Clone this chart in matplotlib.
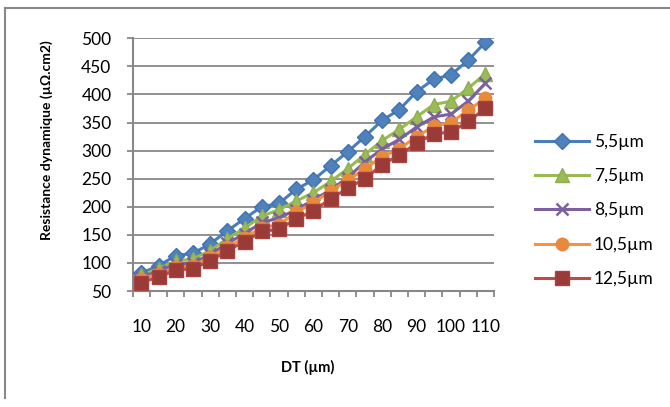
import matplotlib
matplotlib.use("Agg")
import matplotlib.pyplot as plt
from matplotlib.lines import Line2D

plt.rcParams['font.family'] = ['Lato', 'DejaVu Sans']

dt = [10, 15, 20, 25, 30, 35, 40, 45, 50, 55, 60, 65, 70, 75, 80, 85, 90, 95, 100, 105, 110]
tick_labels = ["10", "20", "30", "40", "50", "60", "70", "80", "90", "100", "110"]

s55 = [82, 95, 113, 117, 134, 157, 179, 200, 206, 231, 248, 273, 298, 325, 354, 373, 405, 427, 435, 461, 493]
s75 = [78, 90, 103, 107, 122, 143, 162, 183, 195, 210, 225, 245, 268, 293, 318, 338, 360, 382, 388, 411, 437]
s85 = [75, 85, 98, 100, 115, 135, 152, 172, 180, 195, 212, 230, 252, 280, 303, 320, 342, 360, 365, 388, 420]
s105 = [72, 80, 92, 95, 110, 128, 145, 163, 168, 190, 207, 228, 247, 268, 289, 303, 325, 343, 350, 372, 393]
s125 = [65, 75, 87, 90, 103, 122, 138, 156, 160, 178, 193, 214, 233, 250, 275, 292, 313, 330, 333, 352, 375]

labels = ["5,5µm", "7,5µm", "8,5µm", "10,5µm", "12,5µm"]

W, H = 670, 407
fig = plt.figure(figsize=(W / 100, H / 100), dpi=100)

# chart border (top and left visible)
fig.add_artist(Line2D([5 / W, 1], [1 - 8 / H, 1 - 8 / H], color='#888888', lw=1.5))
fig.add_artist(Line2D([5 / W, 5 / W], [1 - 8 / H, 1 - 398 / H], color='#888888', lw=1.5))

left, right, top, bottom = 132.7, 494, 38.3, 291
ax = fig.add_axes([left / W, 1 - bottom / H, (right - left) / W, (bottom - top) / H])

pos = list(range(len(dt)))

styles = [
    dict(color='#4A7EBB', marker='D', ms=8.5, mfc='#4F81BD', mec='#3F72AE'),
    dict(color='#98B954', marker='^', ms=9.5, mfc='#9BBB59', mec='#8FAE4F'),
    dict(color='#7D60A0', marker='x', ms=8, mew=1.8, mfc='#7D60A0', mec='#7D60A0'),
    dict(color='#F69240', marker='o', ms=9, mfc='#E8893C', mec='#E8893C'),
    dict(color='#BE4B48', marker='s', ms=10, mfc='#9A3B38', mec='#A8423F'),
]
series = [s55, s75, s85, s105, s125]
handles = []
for s, st, lab in zip(series, styles, labels):
    h, = ax.plot(pos, s, lw=2.2, label=lab, zorder=3, **st)
    handles.append(h)

ax.set_xlim(-0.5, len(dt) - 0.5)
ax.set_ylim(50, 500)
ax.set_yticks(range(50, 501, 50))
ax.yaxis.grid(True, color='#888888', lw=1.3)
ax.set_axisbelow(True)

ax.set_xticks(pos[::2])
ax.set_xticklabels(tick_labels)
ax.set_xticks([p - 0.5 for p in pos] + [len(dt) - 0.5], minor=True)
ax.tick_params(axis='x', which='major', length=0, pad=20, labelsize=12.5)
ax.tick_params(axis='x', which='minor', length=4, width=1.3, color='#888888', direction='out')
ax.tick_params(axis='y', which='major', length=4.3, width=1.3, color='#888888', pad=11, labelsize=12.5)

for side in ['top', 'right']:
    ax.spines[side].set_visible(False)
for side in ['left', 'bottom']:
    ax.spines[side].set_color('#888888')
    ax.spines[side].set_linewidth(1.5)

fig.text(47 / W, 1 - 140 / H, "Resistance dynamique (µΩ.cm2)", rotation=90,
         ha='center', va='center', fontsize=10, fontweight='bold')
fig.text(308 / W, 1 - 367 / H, "DT (µm)", ha='center', va='center',
         fontsize=10.5, fontweight='bold')

fig.legend(handles=handles, labels=labels, loc='center left',
           bbox_to_anchor=(535 / W, 1 - 210.5 / H), frameon=False,
           fontsize=12.5, handlelength=3.1, handletextpad=0.3,
           labelspacing=1.05, borderpad=0, borderaxespad=0)

fig.savefig("out.png", dpi=100)
